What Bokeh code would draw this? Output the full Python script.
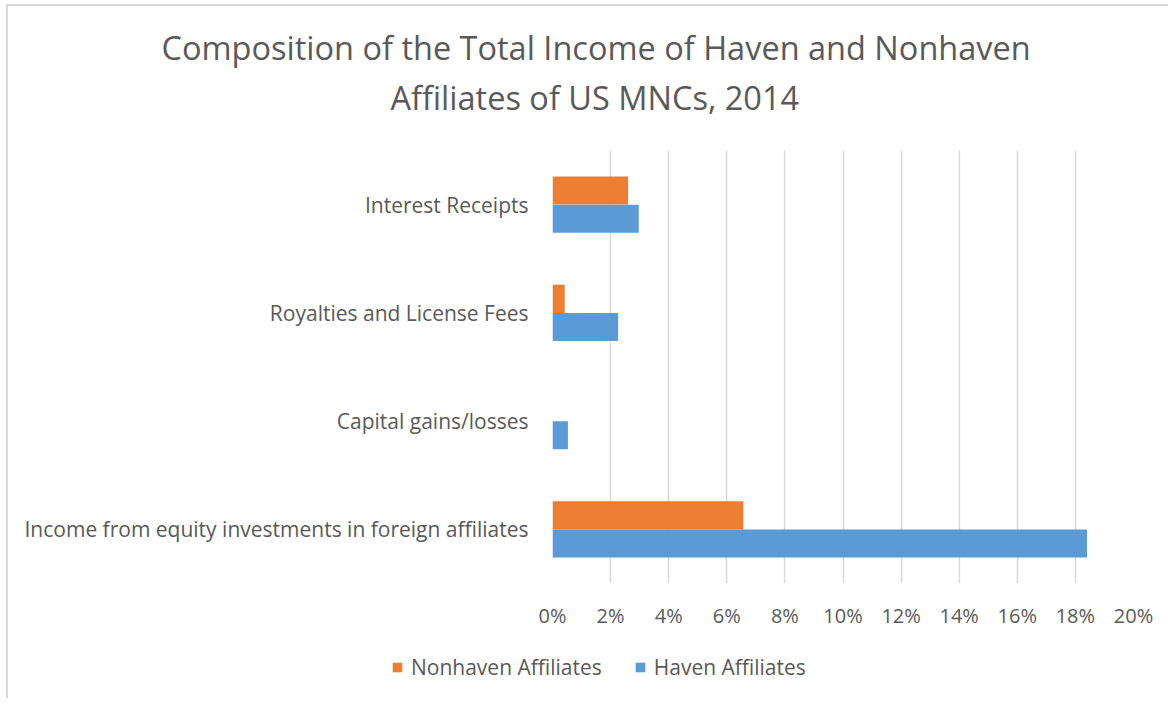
from bokeh.plotting import figure
from bokeh.layouts import column
from bokeh.models import (ColumnDataSource, FactorRange, Range1d, FixedTicker, PrintfTickFormatter,
                          Legend, LegendItem, Title)
from bokeh.transform import dodge
from bokeh.embed import file_html
from bokeh.resources import INLINE

# ---- data (percent of total income) ----
categories = ["Income from equity investments in foreign affiliates",
              "Capital gains/losses",
              "Royalties and License Fees",
              "Interest Receipts"]
nonhaven = [6.57, 0.0, 0.42, 2.60]
haven = [18.4, 0.53, 2.26, 2.97]
x_ticks = [0, 2, 4, 6, 8, 10, 12, 14, 16, 18, 20]
title_lines = ["Composition of the Total Income of Haven and Nonhaven",
               "Affiliates of US MNCs, 2014"]
series_names = ["Nonhaven Affiliates", "Haven Affiliates"]

ORANGE = "#ED7D31"
BLUE = "#5B9BD5"
TEXT = "#595959"
FONT = "Open Sans"

src = ColumnDataSource(dict(cat=categories, nonhaven=nonhaven, haven=haven))

W = 1160
L, T, FW, FH, B = 544, 144, 581, 433, 63
HA = T + FH + B
HB = 52


def add_bars(fig):
    a = fig.hbar(y=dodge("cat", 0.13, range=fig.y_range), right="nonhaven", left=0, height=0.26,
                 fill_color=ORANGE, line_color=None, source=src)
    b = fig.hbar(y=dodge("cat", -0.13, range=fig.y_range), right="haven", left=0, height=0.26,
                 fill_color=BLUE, line_color=None, source=src)
    return a, b


# ---------------- main chart ----------------
p = figure(width=W, height=HA, output_backend="svg", toolbar_location=None,
           y_range=FactorRange(factors=categories, range_padding=0),
           x_range=Range1d(0, 20),
           min_border_left=L, min_border_right=W - L - FW,
           min_border_top=T, min_border_bottom=B)
p.frame_align = False
p.outline_line_color = None
p.background_fill_color = "white"
p.border_fill_color = "white"
add_bars(p)

p.xaxis.ticker = FixedTicker(ticks=x_ticks)
p.xaxis.formatter = PrintfTickFormatter(format="%d%%")
p.xaxis.axis_line_color = None
p.xaxis.major_tick_line_color = None
p.xaxis.minor_tick_line_color = None
p.xaxis.major_tick_out = 0
p.xaxis.major_label_standoff = 18
p.xaxis.major_label_text_font = FONT
p.xaxis.major_label_text_font_size = "20px"
p.xaxis.major_label_text_color = TEXT

p.yaxis.axis_line_color = None
p.yaxis.major_tick_line_color = None
p.yaxis.minor_tick_line_color = None
p.yaxis.major_tick_out = 0
p.yaxis.major_label_standoff = 24
p.yaxis.major_label_text_font = FONT
p.yaxis.major_label_text_font_size = "21px"
p.yaxis.major_label_text_color = TEXT

p.xgrid.grid_line_color = "#d9d9d9"
p.xgrid.grid_line_width = 1.5
p.xgrid.ticker = FixedTicker(ticks=x_ticks)
p.ygrid.grid_line_color = None

# title: spacer nearest the frame, then line 2, then line 1
p.add_layout(Title(text=" ", text_font_size="1px", standoff=28), "above")
p.add_layout(Title(text=title_lines[1], align="left", offset=-162, standoff=0,
                   text_font=FONT, text_font_size="32.5px", text_font_style="normal",
                   text_color=TEXT), "above")
p.add_layout(Title(text=title_lines[0], align="left", offset=-391, standoff=6,
                   text_font=FONT, text_font_size="32.5px", text_font_style="normal",
                   text_color=TEXT), "above")

# ---------------- legend strip ----------------
q = figure(width=W, height=HB, output_backend="svg", toolbar_location=None,
           x_axis_type=None, y_axis_type=None,
           y_range=FactorRange(factors=categories), x_range=Range1d(-2, -1),
           min_border_left=0, min_border_right=0, min_border_top=0, min_border_bottom=0)
q.frame_align = False
q.outline_line_color = None
q.background_fill_color = "white"
q.border_fill_color = "white"
q.grid.visible = False
l_nh, l_h = add_bars(q)

legend = Legend(items=[LegendItem(label=series_names[0], renderers=[l_nh]),
                       LegendItem(label=series_names[1], renderers=[l_h])],
                location=(383, 17), orientation="horizontal",
                glyph_width=12, glyph_height=12, label_standoff=8, spacing=32,
                padding=0, margin=0, border_line_color=None, background_fill_alpha=0,
                label_text_font=FONT, label_text_font_size="21px", label_text_color=TEXT)
q.add_layout(legend, "center")

lay = column(p, q, spacing=0)
lay.styles = {"margin-left": "6px", "margin-top": "4px",
              "border-left": "2px solid #d9d9d9", "border-top": "2px solid #d9d9d9"}

open("out.html", "w").write(file_html(lay, INLINE))
